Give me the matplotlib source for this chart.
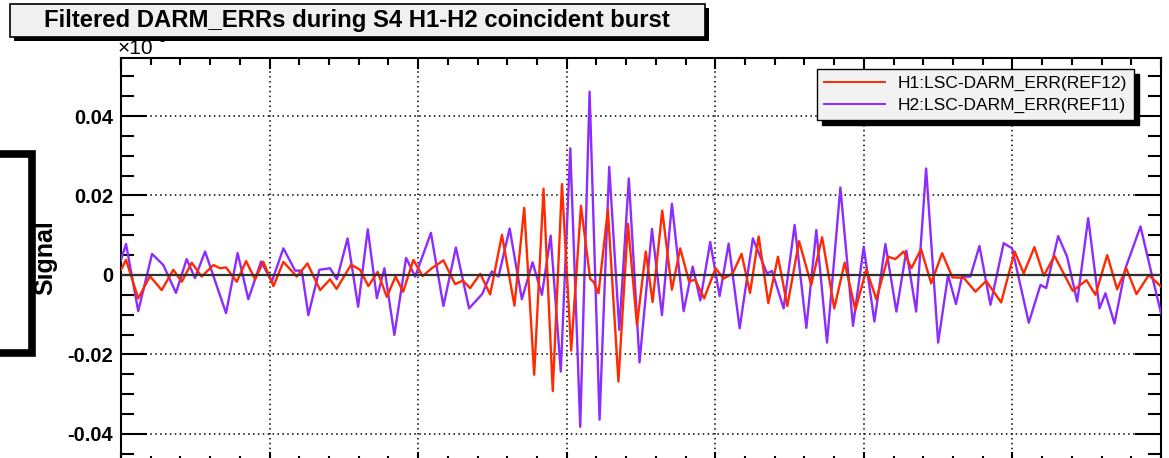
import matplotlib
matplotlib.use("Agg")
import matplotlib.pyplot as plt
from matplotlib.lines import Line2D
from matplotlib.patches import Rectangle
from matplotlib.ticker import MultipleLocator

## Datos (tiempo en divisiones de la rejilla, senal en unidades de 1e-3)
h1_t = [0.000, 0.034, 0.116, 0.195, 0.274, 0.352, 0.409, 0.476, 0.543, 0.622,
        0.667, 0.707, 0.779, 0.842, 0.902, 0.958, 1.026, 1.093, 1.183, 1.255,
        1.340, 1.407, 1.451, 1.549, 1.609, 1.665, 1.727, 1.789, 1.848, 1.899,
        1.968, 2.030, 2.092, 2.170, 2.249, 2.301, 2.350, 2.418, 2.485, 2.564,
        2.648, 2.714, 2.781, 2.844, 2.906, 2.968, 3.030, 3.096, 3.158, 3.180,
        3.214, 3.277, 3.348, 3.412, 3.473, 3.532, 3.578, 3.643, 3.708, 3.764,
        3.823, 3.865, 3.925, 4.002, 4.056, 4.117, 4.177, 4.234, 4.292, 4.357,
        4.422, 4.485, 4.564, 4.646, 4.719, 4.801, 4.871, 4.943, 5.017, 5.084,
        5.163, 5.212, 5.268, 5.320, 5.385, 5.453, 5.527, 5.596, 5.672, 5.751,
        5.823, 5.924, 6.015, 6.076, 6.148, 6.211, 6.283, 6.406, 6.498, 6.559,
        6.638, 6.705, 6.766, 6.835, 6.918, 7.000]
h1_v = [0.0013, 0.0038, -0.0059, -0.0003, -0.0038, 0.0013, -0.0017, 0.0031, -0.0004, 0.0025,
        0.0017, 0.0019, -0.0017, 0.0035, -0.0011, 0.0033, -0.0028, 0.0033, -0.0004, 0.0029,
        -0.0038, -0.0011, -0.0035, 0.0026, 0.0013, -0.0028, 0.0008, -0.0055, -0.0004, -0.0042,
        0.0038, -0.0003, 0.0017, 0.0037, -0.0023, -0.0014, -0.0033, 0.0003, -0.0049, 0.0101,
        -0.0077, 0.0169, -0.0251, 0.0217, -0.0292, 0.0229, -0.0190, 0.0174, -0.0010, -0.0017,
        -0.0046, 0.0164, -0.0268, 0.0129, -0.0126, 0.0059, -0.0068, 0.0162, -0.0037, 0.0067,
        -0.0016, -0.0012, -0.0059, 0.0017, -0.0009, 0.0004, 0.0053, -0.0045, 0.0097, -0.0071,
        0.0046, -0.0078, 0.0085, -0.0025, 0.0095, -0.0084, 0.0031, -0.0088, 0.0014, -0.0061,
        0.0046, 0.0040, 0.0059, 0.0017, 0.0065, -0.0021, 0.0055, -0.0006, -0.0007, -0.0042,
        -0.0015, -0.0069, 0.0059, 0.0004, 0.0070, -0.0002, 0.0048, -0.0040, -0.0013, -0.0050,
        0.0050, -0.0036, 0.0017, -0.0048, 0.0000, -0.0029]

h2_t = [0.000, 0.034, 0.116, 0.209, 0.285, 0.370, 0.442, 0.498, 0.566, 0.707,
        0.785, 0.857, 0.943, 1.015, 1.093, 1.172, 1.217, 1.261, 1.335, 1.407,
        1.453, 1.525, 1.596, 1.661, 1.722, 1.773, 1.840, 1.919, 1.980, 2.086,
        2.170, 2.254, 2.343, 2.431, 2.496, 2.541, 2.616, 2.698, 2.770, 2.833,
        2.892, 2.960, 3.024, 3.091, 3.154, 3.221, 3.286, 3.354, 3.418, 3.490,
        3.574, 3.641, 3.708, 3.787, 3.848, 3.899, 3.966, 4.029, 4.090, 4.164,
        4.253, 4.348, 4.382, 4.460, 4.534, 4.613, 4.680, 4.752, 4.842, 4.927,
        4.999, 5.071, 5.145, 5.219, 5.286, 5.352, 5.419, 5.500, 5.567, 5.620,
        5.661, 5.717, 5.778, 5.852, 5.941, 5.998, 6.110, 6.189, 6.227, 6.308,
        6.368, 6.436, 6.510, 6.586, 6.626, 6.687, 6.761, 6.862, 6.941, 7.000]
h2_v = [0.0038, 0.0078, -0.0091, 0.0053, 0.0025, -0.0045, 0.0040, -0.0008, 0.0059, -0.0096,
        0.0055, -0.0061, 0.0034, -0.0017, 0.0067, 0.0011, 0.0011, -0.0101, 0.0013, 0.0017,
        -0.0011, 0.0092, -0.0080, 0.0115, -0.0058, 0.0017, -0.0151, 0.0043, -0.0004, 0.0106,
        -0.0078, 0.0069, -0.0084, -0.0048, 0.0009, -0.0004, 0.0117, -0.0061, 0.0032, -0.0050,
        0.0099, -0.0243, 0.0319, -0.0382, 0.0461, -0.0364, 0.0272, -0.0138, 0.0243, -0.0220,
        0.0116, -0.0101, 0.0179, -0.0091, 0.0021, -0.0064, 0.0083, -0.0053, 0.0079, -0.0134,
        0.0092, 0.0004, 0.0010, -0.0084, 0.0126, -0.0133, 0.0113, -0.0170, 0.0220, -0.0128,
        0.0071, -0.0117, 0.0078, -0.0092, 0.0061, -0.0092, 0.0268, -0.0170, 0.0000, -0.0073,
        -0.0004, -0.0004, 0.0073, -0.0075, 0.0080, 0.0067, -0.0120, -0.0025, -0.0033, 0.0098,
        0.0046, -0.0067, 0.0143, -0.0084, -0.0046, -0.0122, 0.0017, 0.0122, -0.0004, -0.0096]

yticks = [-0.04, -0.02, 0, 0.02, 0.04]
ytick_labels = ["-0.04", "-0.02", "0", "0.02", "0.04"]

titulo = "Filtered DARM_ERRs during S4 H1-H2 coincident burst"
etiqueta_h1 = "H1:LSC-DARM_ERR(REF12)"
etiqueta_h2 = "H2:LSC-DARM_ERR(REF11)"

plt.rcParams['font.family'] = ['Liberation Sans', 'DejaVu Sans']

W, H = 1169, 458
fig = plt.figure(figsize=(W / 100, H / 100), dpi=100)
ax = fig.add_axes([121 / W, -0.01, 1040 / W, 0.8834])

## Las curvas
linea_h2, = ax.plot(h2_t, h2_v, color="#8c2cff", lw=1.7, zorder=3)
linea_h1, = ax.plot(h1_t, h1_v, color="#ff2a00", lw=1.7, zorder=4)
ax.axhline(0, color="#303030", lw=1.6, zorder=5)

ax.set_xlim(0, 7)
ax.set_ylim(-0.0472, 0.0546)

## Ejes estilo ROOT, ticks hacia adentro en los cuatro lados
ax.xaxis.set_major_locator(MultipleLocator(1))
ax.xaxis.set_minor_locator(MultipleLocator(0.2))
ax.set_yticks(yticks, ytick_labels)
ax.yaxis.set_minor_locator(MultipleLocator(0.005))
ax.tick_params(which="both", direction="in", top=True, right=True,
               labelbottom=False, width=1.5, color="black")
ax.tick_params(axis="y", which="major", length=18.5, labelsize=14.5, pad=5.5)
ax.tick_params(axis="y", which="minor", length=9.5)
ax.tick_params(axis="x", which="major", length=8)
ax.tick_params(axis="x", which="minor", length=5)
for lbl in ax.get_yticklabels():
    lbl.set_fontweight("bold")
for sp in ax.spines.values():
    sp.set_linewidth(1.5)
ax.grid(which="major", color="black", linestyle=(0, (1, 2.2)), lw=1.1)

## Leyenda con sombra
leg = ax.legend([linea_h1, linea_h2], [etiqueta_h1, etiqueta_h2],
                loc="upper left", bbox_to_anchor=(817 / W, 1 - 69 / H),
                bbox_transform=fig.transFigure, borderaxespad=0,
                fontsize=12.5, handlelength=3.5, handletextpad=0.75,
                labelspacing=0.4, borderpad=0.4, fancybox=False,
                framealpha=1, facecolor="#f2f2f2", edgecolor="black",
                shadow={"ox": 3.5, "oy": -3.5, "color": "black", "alpha": 1})
leg.get_frame().set_linewidth(1.0)
for l in leg.get_lines():
    l.set_linewidth(1.4)

## Exponente del eje (queda medio tapado por el titulo)
fig.text(118 / W, 1 - 54 / H, "\u00d710", fontsize=15, ha="left", va="baseline", zorder=5)
fig.text(154 / W, 1 - 42 / H, "-3", fontsize=10, ha="left", va="baseline", zorder=5)

## Caja del titulo con sombra
fig.add_artist(Rectangle((14 / W, 1 - 41 / H), 695 / W, 33 / H, transform=fig.transFigure,
                         facecolor="black", edgecolor="none", zorder=10))
fig.add_artist(Rectangle((10 / W, 1 - 37 / H), 695 / W, 33 / H, transform=fig.transFigure,
                         facecolor="#f0f0f0", edgecolor="black", lw=1.2, zorder=11))
fig.text(357 / W, 1 - 21 / H, titulo, ha="center", va="center", fontsize=17.2,
         fontweight="bold", zorder=12)

## Etiqueta del eje Y y el corchete negro que la tapa un poco
fig.text(45 / W, 1 - 258 / H, "Signal", rotation=90, ha="center", va="center",
         fontsize=18, fontweight="bold", zorder=5)
fig.add_artist(Line2D([0, 32 / W, 32 / W, 0],
                      [1 - 153.5 / H, 1 - 153.5 / H, 1 - 352.5 / H, 1 - 352.5 / H],
                      transform=fig.transFigure, color="black", lw=5.5,
                      solid_joinstyle="miter", zorder=6))

fig.savefig("out.png", dpi=100)
